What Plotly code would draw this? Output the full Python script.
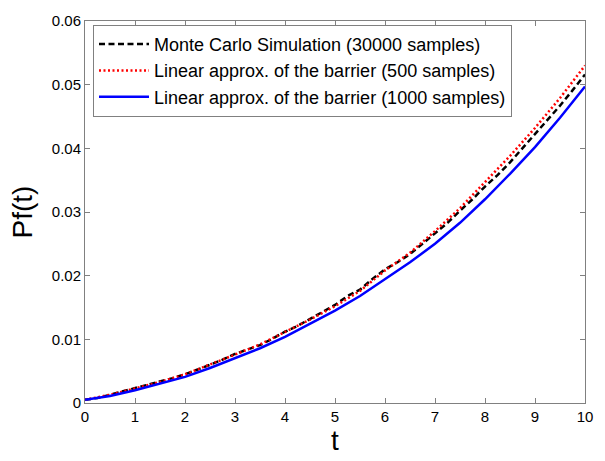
import plotly.graph_objects as go

t_mc = [i * 0.25 for i in range(41)]
pf_mc = [0.0005, 0.0008, 0.0013, 0.0018, 0.0023, 0.0028, 0.0033, 0.0039, 0.0045, 0.0052,
         0.0060, 0.0068, 0.0077, 0.0084, 0.0091, 0.0101, 0.0112, 0.0121, 0.0132, 0.0142,
         0.0154, 0.0168, 0.0178, 0.0195, 0.0210, 0.0221, 0.0234, 0.0250, 0.0267, 0.0283,
         0.0302, 0.0320, 0.0340, 0.0358, 0.0378, 0.0400, 0.0422, 0.0444, 0.0467, 0.0491,
         0.0516]

t_lin = [i * 0.5 for i in range(21)]
pf_500 = [0.0005, 0.0013, 0.0023, 0.0033, 0.0045, 0.0060, 0.0076, 0.0092, 0.0111, 0.0131,
          0.0152, 0.0176, 0.0208, 0.0236, 0.0270, 0.0306, 0.0347, 0.0388, 0.0432, 0.0479,
          0.0530]
pf_1000 = [0.0005, 0.0011, 0.0020, 0.0030, 0.0041, 0.0055, 0.0070, 0.0086, 0.0104, 0.0124,
           0.0145, 0.0168, 0.0195, 0.0221, 0.0250, 0.0283, 0.0320, 0.0360, 0.0402, 0.0448,
           0.0497]

names = ["Monte Carlo Simulation (30000 samples)",
         "Linear approx. of the barrier (500 samples)",
         "Linear approx. of the barrier (1000 samples)"]

fig = go.Figure()
fig.add_trace(go.Scatter(x=t_mc, y=pf_mc, mode="lines", name=names[0],
                         line=dict(color="black", width=2.5, dash="6px,3.5px")))
fig.add_trace(go.Scatter(x=t_lin, y=pf_500, mode="lines", name=names[1],
                         line=dict(color="red", width=2.5, dash="2px,2.5px")))
fig.add_trace(go.Scatter(x=t_lin, y=pf_1000, mode="lines", name=names[2],
                         line=dict(color="blue", width=2.5)))

FONT = "Liberation Sans, Arial, sans-serif"
axis_common = dict(showline=True, linecolor="#808080", linewidth=1, mirror="ticks",
                   ticks="inside", ticklen=5, tickcolor="#808080", showgrid=False,
                   zeroline=False, tickfont=dict(size=15, color="black", family=FONT))

fig.update_layout(
    width=605, height=461,
    margin=dict(l=85, r=14, t=17, b=48),
    plot_bgcolor="white", paper_bgcolor="white",
    font=dict(family=FONT, color="black"),
    xaxis=dict(range=[0, 10], dtick=1, title=dict(text="t", font=dict(size=28), standoff=4),
               **axis_common),
    yaxis=dict(range=[0, 0.06], dtick=0.01, title=dict(text="Pf(t)", font=dict(size=28), standoff=10),
               **axis_common),
    legend=dict(x=0.016, y=0.99, xanchor="left", yanchor="top",
                bordercolor="#808080", borderwidth=1, bgcolor="white",
                itemwidth=50,
                font=dict(size=18, color="black", family=FONT), tracegroupgap=0),
    showlegend=True,
)

fig.write_html("out.html")
